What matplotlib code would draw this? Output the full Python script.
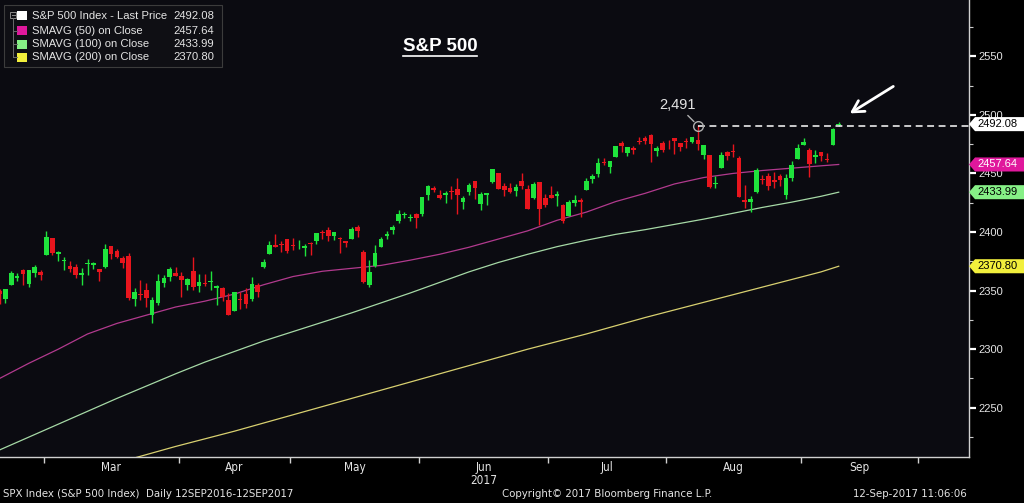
import numpy as np
import pandas as pd
import matplotlib
matplotlib.use("Agg")
import matplotlib.pyplot as plt
from matplotlib.patches import Rectangle, Polygon
from matplotlib.lines import Line2D
from matplotlib import font_manager
from matplotlib.font_manager import FontProperties

SANS = "Liberation Sans"

# pick a condensed face for the Bloomberg-style axis/footer text if one is installed
narrow_file = None
for f in font_manager.fontManager.ttflist:
    if ("Narrow" in f.name or "Condensed" in f.name or f.stretch in ("condensed", "semi-condensed")) \
            and f.style == "normal" and f.weight in (400, "normal", "regular"):
        narrow_file = f.fname
        break

def narrow(size):
    if narrow_file:
        return FontProperties(fname=narrow_file, size=size)
    return FontProperties(family=SANS, size=size)

# trading calendar (exchange holidays removed)
holidays = ["2017-02-20", "2017-04-14", "2017-05-29", "2017-07-04", "2017-09-04"]
trade_days = pd.bdate_range("2017-02-16", "2017-10-31")
trade_days = trade_days[~trade_days.isin(pd.to_datetime(holidays))]

# daily candles 16-Feb-2017 .. 12-Sep-2017
opens = [
    2349.6, 2343.0, 2354.9, 2361.1, 2367.5, 2355.7, 2365.2, 2366.1,  # Feb
    2380.1, 2394.8, 2380.9, 2375.2, 2370.7, 2369.8, 2363.5, 2372.5, 2371.6, 2368.6, 2370.3, 2387.7,
    2383.7, 2378.2, 2379.3, 2343.0, 2346.0, 2350.4, 2329.1, 2339.8, 2356.5, 2361.3, 2364.8,  # Mar
    2362.3, 2354.8, 2366.6, 2353.8, 2356.6, 2357.2, 2352.3, 2352.1, 2342.0, 2332.6, 2342.5, 2346.8,
    2342.7, 2354.7, 2370.3, 2381.5, 2389.0, 2389.7, 2393.7,  # Apr
    2388.5, 2391.1, 2386.5, 2389.8, 2392.4, 2399.9, 2401.6, 2396.8, 2394.8, 2392.4, 2394.0, 2404.6,
    2383.0, 2354.7, 2371.4, 2387.2, 2397.0, 2401.4, 2409.5, 2414.5, 2411.7, 2415.6,  # May
    2415.7, 2431.3, 2437.8, 2431.9, 2432.0, 2434.3, 2436.4, 2425.9, 2434.2, 2443.8, 2424.1, 2431.2,
    2442.6, 2450.7, 2439.3, 2437.4, 2434.7, 2443.3, 2436.3, 2428.7, 2442.4, 2429.2,  # Jun
    2431.4, 2430.8, 2423.4, 2413.5, 2424.5, 2427.4, 2435.8, 2445.0, 2449.2, 2459.5, 2455.9, 2463.9,
    2475.6, 2467.4, 2472.0, 2477.9, 2480.0, 2482.8, 2469.1, 2475.9,  # Jul
    2477.1, 2480.4, 2476.0, 2476.9, 2477.1, 2478.4, 2465.4, 2465.4, 2441.0, 2455.0, 2468.7, 2468.6,
    2463.0, 2427.6, 2425.5, 2433.8, 2444.9, 2447.9, 2444.7, 2447.4, 2431.9, 2446.1, 2462.7,  # Aug
    2474.4, 2470.4, 2463.8, 2468.1, 2462.3, 2474.5, 2491.3,  # Sep
]
highs = [
    2351.3, 2351.2, 2366.7, 2365.1, 2368.3, 2367.3, 2371.5, 2367.8,
    2401.0, 2394.8, 2383.9, 2378.8, 2375.1, 2373.1, 2369.1, 2376.9, 2374.4, 2368.6, 2390.0, 2388.1,
    2385.7, 2379.6, 2381.9, 2351.8, 2358.9, 2356.2, 2344.9, 2363.8, 2363.4, 2370.4, 2370.4,
    2365.9, 2360.5, 2378.4, 2364.2, 2363.8, 2366.4, 2355.2, 2352.7, 2348.3, 2349.1, 2348.4, 2352.6,
    2361.4, 2356.2, 2377.0, 2392.5, 2398.2, 2392.1, 2393.7,
    2394.5, 2392.9, 2389.8, 2391.4, 2399.3, 2401.4, 2403.9, 2399.7, 2395.7, 2392.4, 2404.1, 2405.8,
    2384.9, 2375.7, 2389.1, 2395.5, 2400.9, 2405.6, 2418.7, 2416.7, 2415.3, 2416.0,
    2430.1, 2440.2, 2439.6, 2436.2, 2435.3, 2439.3, 2446.2, 2430.4, 2441.5, 2443.8, 2434.0, 2433.2,
    2453.8, 2450.7, 2442.2, 2441.6, 2441.4, 2450.4, 2440.2, 2443.0, 2442.7, 2432.7,
    2439.2, 2434.9, 2424.3, 2426.9, 2432.0, 2429.3, 2445.8, 2449.1, 2463.5, 2462.8, 2460.9, 2473.8,
    2477.6, 2472.5, 2473.1, 2481.2, 2481.7, 2484.0, 2473.5, 2478.0,
    2478.5, 2480.4, 2476.0, 2480.0, 2481.0, 2490.9, 2474.4, 2465.4, 2448.1, 2468.2, 2468.9, 2474.9,
    2465.0, 2440.3, 2430.6, 2454.8, 2448.9, 2450.4, 2451.3, 2449.1, 2449.2, 2460.6, 2475.0,
    2480.4, 2472.0, 2469.6, 2468.6, 2467.1, 2489.0, 2494.0,
]
lows = [
    2338.9, 2339.6, 2354.9, 2358.3, 2355.1, 2352.9, 2361.9, 2359.0,
    2380.1, 2380.2, 2375.1, 2368.0, 2365.5, 2361.0, 2354.5, 2363.0, 2368.5, 2358.2, 2368.9, 2377.2,
    2377.6, 2369.7, 2341.9, 2336.5, 2342.1, 2335.7, 2322.3, 2337.6, 2352.9, 2358.6, 2362.6,
    2344.7, 2350.7, 2350.5, 2348.9, 2353.7, 2350.7, 2337.3, 2341.2, 2329.0, 2332.5, 2334.5, 2335.1,
    2340.9, 2344.5, 2369.2, 2381.2, 2386.8, 2382.7, 2382.4,
    2384.8, 2385.8, 2379.8, 2380.4, 2389.4, 2393.9, 2392.4, 2392.8, 2381.7, 2387.2, 2393.9, 2396.1,
    2356.2, 2352.7, 2370.4, 2386.9, 2393.9, 2398.0, 2408.0, 2412.2, 2409.4, 2403.6,
    2413.5, 2427.7, 2434.3, 2428.1, 2424.8, 2427.9, 2415.7, 2420.0, 2431.3, 2428.3, 2418.5, 2422.9,
    2441.8, 2436.6, 2430.7, 2433.3, 2431.1, 2437.0, 2419.4, 2428.0, 2405.7, 2421.7,
    2428.7, 2422.1, 2407.7, 2413.5, 2422.3, 2412.8, 2435.8, 2441.7, 2446.7, 2457.2, 2450.3, 2463.9,
    2468.4, 2465.1, 2466.3, 2474.9, 2474.9, 2459.9, 2464.7, 2468.5,
    2471.1, 2466.5, 2468.9, 2472.1, 2475.9, 2470.3, 2462.1, 2437.8, 2437.9, 2455.0, 2461.6, 2463.9,
    2430.0, 2420.7, 2417.4, 2433.7, 2441.4, 2436.2, 2437.7, 2439.0, 2428.2, 2443.8, 2462.7,
    2473.9, 2446.6, 2459.2, 2460.3, 2459.4, 2474.5, 2490.1,
]
closes = [
    2347.2, 2351.2, 2365.4, 2362.8, 2363.8, 2367.3, 2369.8, 2363.6,
    2396.0, 2381.9, 2383.1, 2375.3, 2368.4, 2363.0, 2364.9, 2372.6, 2373.5, 2365.5, 2385.3, 2381.4,
    2378.3, 2373.5, 2344.0, 2348.5, 2345.9, 2344.0, 2341.6, 2358.6, 2361.1, 2368.1, 2362.7,
    2358.8, 2360.2, 2353.0, 2357.5, 2355.5, 2357.3, 2353.8, 2344.9, 2329.0, 2349.0, 2342.2, 2338.2,
    2355.8, 2348.7, 2374.2, 2388.6, 2387.5, 2388.8, 2384.2,
    2388.3, 2391.2, 2388.1, 2389.5, 2399.3, 2399.4, 2396.9, 2399.6, 2394.4, 2390.9, 2402.3, 2400.7,
    2357.0, 2365.7, 2381.7, 2394.0, 2398.4, 2404.4, 2415.1, 2415.8, 2412.9, 2411.8,
    2430.1, 2439.1, 2436.1, 2429.3, 2433.1, 2433.8, 2431.8, 2429.4, 2440.4, 2437.9, 2432.5, 2433.2,
    2453.5, 2437.0, 2435.6, 2434.5, 2438.3, 2439.1, 2419.4, 2440.7, 2419.7, 2423.4,
    2429.0, 2432.5, 2409.8, 2425.2, 2427.4, 2425.5, 2443.3, 2447.8, 2459.3, 2459.1, 2460.6, 2473.8,
    2473.5, 2472.5, 2469.9, 2477.1, 2477.8, 2475.4, 2472.1, 2470.3,
    2476.4, 2477.6, 2472.2, 2476.8, 2480.9, 2474.9, 2474.0, 2438.2, 2441.3, 2465.8, 2464.6, 2468.1,
    2430.0, 2425.6, 2428.4, 2452.5, 2444.0, 2439.0, 2443.1, 2444.2, 2446.3, 2457.6, 2471.7,
    2476.6, 2457.9, 2465.5, 2465.1, 2461.4, 2488.1, 2492.1,
]

# moving averages read every 5 sessions (session 0 = 16-Feb)
sma_pos = list(range(0, 141, 5)) + [143]
sma50 = [2275, 2288, 2300, 2313, 2322, 2329, 2336, 2341, 2347, 2355, 2362, 2366.5,
         2369, 2371.5, 2376, 2381, 2387, 2394, 2401, 2410, 2417, 2426, 2433, 2441,
         2446.5, 2450, 2452.5, 2454.5, 2456.5, 2457.64]
sma100 = [2214, 2225, 2236, 2247, 2258, 2268.5, 2279, 2289, 2298, 2307, 2315, 2323,
          2331, 2339.5, 2348, 2357, 2366, 2374, 2381, 2387.5, 2393, 2398, 2402, 2406.5,
          2411, 2416, 2421, 2425.5, 2430.5, 2433.99]
sma200 = [2176, 2183, 2190, 2196.5, 2203, 2210, 2217, 2223.5, 2230, 2237, 2244, 2251,
          2258, 2265, 2272, 2279, 2286, 2293, 2300, 2306.5, 2313, 2320, 2327, 2333.5,
          2340, 2346.5, 2353, 2359.5, 2366, 2370.80]

legend_labels = ["S&P 500 Index - Last Price", "SMAVG (50) on Close",
                 "SMAVG (100) on Close", "SMAVG (200) on Close"]
legend_values = [2492.08, 2457.64, 2433.99, 2370.80]
legend_colors = ["#ffffff", "#e0189c", "#86f086", "#f2ef3c"]
label_text_colors = ["#000000", "#ffffff", "#000000", "#000000"]
line_colors = ["#b23a8e", "#a6d9a6", "#d8d070"]

high_label = "2,491"
high_value = 2490.87
high_day = "2017-08-08"
month_names = ["Mar", "Apr", "May", "Jun", "Jul", "Aug", "Sep"]

GREEN = "#1fe33c"
RED = "#e8151d"
TXT = "#e4e4e4"

fig = plt.figure(figsize=(10.24, 5.03), dpi=100, facecolor="#000000")
ax = fig.add_axes([0, 46 / 503, 969 / 1024, 457 / 503])
ax.set_facecolor("#0b0b11")

def fx(x):
    return x / 1024

def fy(y):
    return 1 - y / 503

# candles
o = np.array(opens)
h = np.array(highs)
l = np.array(lows)
c = np.array(closes)
x = np.arange(len(c))
col = np.where(c >= o, GREEN, RED)
ax.vlines(x, l, h, colors=col, lw=1.0, zorder=3)
ax.bar(x, np.maximum(np.abs(c - o), 0.8), bottom=np.minimum(o, c), width=0.8,
       color=col, lw=0, zorder=4)

# moving averages
for vals, lc in zip([sma50, sma100, sma200], line_colors):
    ax.plot(sma_pos, vals, color=lc, lw=0.9, zorder=2)

ax.set_xlim(0.08, 165.2)
ax.set_ylim(2208, 2598)

# recent high marker + dashed line
hi_x = trade_days.get_loc(pd.Timestamp(high_day))
ax.plot([hi_x, 165.2], [high_value, high_value], color="white", lw=1.1,
        ls=(0, (4.5, 3.0)), zorder=5)
ax.plot(hi_x, high_value, "o", ms=7, mfc="none", mec="#b0b0b0", mew=1, zorder=6)
ax.annotate(high_label, xy=(hi_x, high_value), xytext=(-15, 15), textcoords="offset points",
            ha="center", va="center", color=TXT, fontsize=10.5, family=SANS,
            arrowprops=dict(arrowstyle="-", color="#b0b0b0", lw=1, shrinkA=1, shrinkB=4))

# white arrow to the last candle
last_x = len(c) - 1
ax.annotate("", xy=(last_x + 1.5, 2500), xytext=(last_x + 9.7, 2525.5),
            arrowprops=dict(arrowstyle="->,head_length=0.8,head_width=0.45",
                            color="white", lw=2))

# axes styling
for side in ["top", "left"]:
    ax.spines[side].set_visible(False)
for side in ["right", "bottom"]:
    ax.spines[side].set_color("#d0d0d0")
    ax.spines[side].set_linewidth(1)

ax.yaxis.tick_right()
ax.set_yticks(np.arange(2250, 2551, 50))
ax.set_yticks(np.arange(2225, 2600, 50), minor=True)
ax.tick_params(axis="y", which="major", length=5, width=1.6, color="white",
               labelcolor=TXT, labelsize=8, pad=1.5)
ax.tick_params(axis="y", which="minor", length=3, width=0.8, color="#cccccc")
for t in ax.get_yticklabels():
    t.set_family(SANS)

# month ticks at month boundaries, names centred in between
bounds = [np.where(trade_days.month == m)[0][0] - 0.5 for m in range(3, 11)]
centres = [(a + b) / 2 for a, b in zip(bounds[:-1], bounds[1:])]
ax.set_xticks(bounds)
ax.set_xticklabels([])
ax.set_xticks(centres, minor=True)
ax.set_xticklabels(month_names, minor=True)
ax.tick_params(axis="x", which="major", length=4, width=1, color="#d0d0d0")
ax.tick_params(axis="x", which="minor", length=0, labelcolor=TXT, pad=3)
for t in ax.get_xticklabels(minor=True):
    t.set_fontproperties(narrow(8.5))
ax.text(centres[3], -0.052, "2017", transform=ax.get_xaxis_transform(), ha="center",
        va="center", color=TXT, fontproperties=narrow(8.5))

# last-value tags on the right axis
tr = ax.get_yaxis_transform()
for v, fc, tc in zip(legend_values, legend_colors, label_text_colors):
    dy = 6.0
    poly = Polygon([(1.0, v), (1.0062, v + dy), (1.06, v + dy), (1.06, v - dy),
                    (1.0062, v - dy)], closed=True, transform=tr, facecolor=fc,
                   edgecolor="none", clip_on=False, zorder=8)
    ax.add_patch(poly)
    ax.text(1.0082, v, f"{v:.2f}", transform=tr, ha="left", va="center", color=tc,
            fontsize=8, family=SANS, zorder=9, clip_on=False)

# title
title = fig.text(fx(440), fy(46), "S&P 500", ha="center", va="center", color="white",
                 fontsize=13.5, fontweight="bold", family=SANS)

# legend box
fig.add_artist(Rectangle((fx(4), fy(67)), fx(222) - fx(4), fy(5) - fy(67),
                         transform=fig.transFigure, facecolor="#0f0f14",
                         edgecolor="#3c3c3c", lw=0.8))
rows = [15.7, 30.7, 44.0, 57.3]
fig.add_artist(Rectangle((fx(10), fy(18)), fx(6), fx(6) * 1024 / 503,
                         transform=fig.transFigure, facecolor="none",
                         edgecolor="#8a8a8a", lw=0.7))
fig.add_artist(Line2D([fx(11.5), fx(14.5)], [fy(15), fy(15)], color="#8a8a8a", lw=0.7,
                      transform=fig.transFigure))
fig.add_artist(Line2D([fx(13), fx(13)], [fy(18), fy(57.3)], color="#6a6a6a", lw=0.7,
                      transform=fig.transFigure))
for ry in rows[1:]:
    fig.add_artist(Line2D([fx(13), fx(17)], [fy(ry), fy(ry)], color="#6a6a6a", lw=0.7,
                          transform=fig.transFigure))
for ry, lab, val, fc in zip(rows, legend_labels, legend_values, legend_colors):
    fig.add_artist(Rectangle((fx(17.3), fy(ry + 4.5)), fx(10), fy(ry - 4.5) - fy(ry + 4.5),
                             transform=fig.transFigure, facecolor=fc, edgecolor="none"))
    fig.text(fx(31.5), fy(ry), lab, ha="left", va="center", color=TXT, fontsize=8.1,
             family=SANS)
    fig.text(fx(214), fy(ry), f"{val:.2f}", ha="right", va="center", color=TXT,
             fontsize=8.1, family=SANS)

# footer
foot = [
    fig.text(fx(3), fy(494), "SPX Index (S&P 500 Index)  Daily 12SEP2016-12SEP2017",
             ha="left", va="center", color=TXT, fontproperties=narrow(8.5)),
    fig.text(fx(607), fy(494), "Copyright\u00a9 2017 Bloomberg Finance L.P.",
             ha="center", va="center", color=TXT, fontproperties=narrow(8.5)),
    fig.text(fx(967), fy(494), "12-Sep-2017 11:06:06", ha="right", va="center",
             color=TXT, fontproperties=narrow(8.5)),
]

# one footer size, matched to the width of the left-hand caption; underline the title
fig.canvas.draw()
r = fig.canvas.get_renderer()
foot_size = min(max(8.5 * 294 / foot[0].get_window_extent(r).width, 6.5), 9.5)
for t in foot:
    t.set_fontsize(foot_size)
bb = title.get_window_extent(r).transformed(fig.transFigure.inverted())
fig.add_artist(Line2D([bb.x0, bb.x1], [bb.y0 - 0.002, bb.y0 - 0.002], color="white",
                      lw=1.2, transform=fig.transFigure))

fig.savefig("out.png", dpi=100, facecolor=fig.get_facecolor())
